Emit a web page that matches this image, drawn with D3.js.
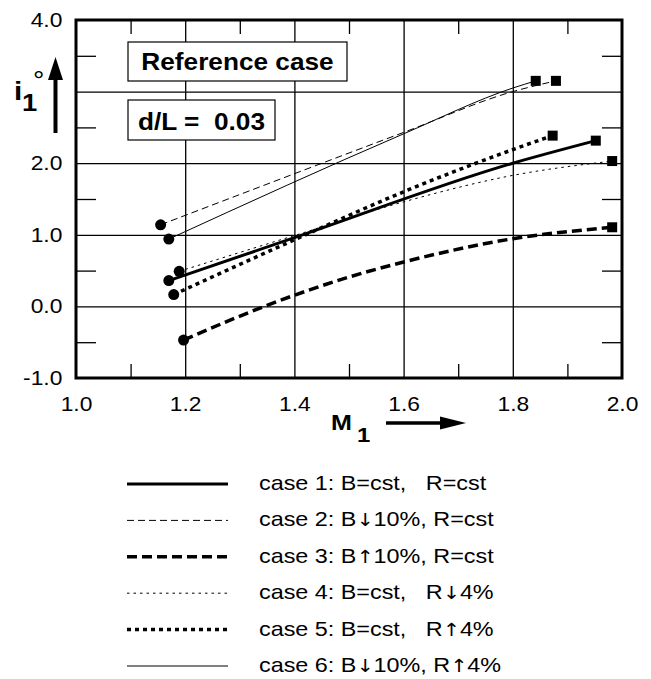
<!DOCTYPE html>
<html>
<head>
<meta charset="utf-8">
<script src="https://cdn.jsdelivr.net/npm/d3@7"></script>
<style>
  html, body { margin: 0; padding: 0; background: #fff; }
  svg { display: block; font-family: "Liberation Sans", Arial, Helvetica, sans-serif; }
</style>
</head>
<body>
<svg id="chart" width="651" height="679"></svg>
<script>
// values: [M1, i1]
const case1 = [[1.170, 0.36], [1.40, 0.96], [1.80, 2.00], [1.952, 2.315]];
const case2 = [[1.155, 1.14], [1.60, 2.43], [1.80, 3.00], [1.879, 3.15]];
const case3 = [[1.197, -0.47], [1.35, 0.015], [1.50, 0.41], [1.60, 0.62], [1.80, 0.945], [1.982, 1.105]];
const case4 = [[1.189, 0.49], [1.40, 0.99], [1.60, 1.46], [1.80, 1.83], [1.982, 2.03]];
const case5 = [[1.179, 0.165], [1.40, 0.93], [1.60, 1.60], [1.80, 2.19], [1.873, 2.385]];
const case6 = [[1.170, 0.94], [1.60, 2.41], [1.80, 3.05], [1.842, 3.15]];
const allCases = [case1, case2, case3, case4, case5, case6];

const legendLabels = [
  'case 1: B=cst,   R=cst',
  'case 2: B\u219310%, R=cst',
  'case 3: B\u219110%, R=cst',
  'case 4: B=cst,   R\u21934%',
  'case 5: B=cst,   R\u21914%',
  'case 6: B\u219310%, R\u21914%'
];

const xLabelTicks = [1.0, 1.2, 1.4, 1.6, 1.8, 2.0];
const xGrid = [1.2, 1.4, 1.6, 1.8];
const xMinor = [1.1, 1.3, 1.5, 1.7, 1.9];
const yLabelTicks = [4.0, 2.0, 1.0, 0.0, -1.0];
const yGrid = [0, 1, 2, 3];
const yMinor = [-0.5, 0.5, 1.5, 2.5, 3.5];

// line styles, one per case
const styles = [
  { width: 3, dash: null },
  { width: 1, dash: '7,4' },
  { width: 3.5, dash: '10,5' },
  { width: 1, dash: '2.5,4' },
  { width: 3.5, dash: '4,4' },
  { width: 1, dash: null }
];

const STRETCH = 1.14; // the original lettering is a bit wide

const svg = d3.select('#chart');
const plot = { left: 76, right: 622, top: 20, bottom: 378 };

const x = d3.scaleLinear().domain([1, 2]).range([plot.left, plot.right]);
const y = d3.scaleLinear().domain([-1, 4]).range([plot.bottom, plot.top]);

const fmt = d => d3.format('.1f')(d).replace('\u2212', '-');

const stretchText = sel => sel.selectAll('text')
  .attr('transform', `scale(${STRETCH},1)`);

// grid lines
svg.append('g')
  .attr('transform', `translate(0,${plot.bottom})`)
  .call(d3.axisBottom(x).tickValues(xGrid).tickSize(-(plot.bottom - plot.top)).tickFormat(''))
  .call(g => g.select('.domain').remove())
  .selectAll('line').attr('stroke', '#000').attr('stroke-width', 1.3);

svg.append('g')
  .attr('transform', `translate(${plot.left},0)`)
  .call(d3.axisLeft(y).tickValues(yGrid).tickSize(-(plot.right - plot.left)).tickFormat(''))
  .call(g => g.select('.domain').remove())
  .selectAll('line').attr('stroke', '#000').attr('stroke-width', 1.3);

// short inner ticks
const minor = [
  [d3.axisBottom(x).tickValues(xMinor).tickSize(-14), `translate(0,${plot.bottom})`],
  [d3.axisTop(x).tickValues(xMinor).tickSize(-14), `translate(0,${plot.top})`],
  [d3.axisLeft(y).tickValues(yMinor).tickSize(-20), `translate(${plot.left},0)`],
  [d3.axisRight(y).tickValues(yMinor).tickSize(-20), `translate(${plot.right},0)`]
];
minor.forEach(([ax, tr]) => {
  svg.append('g')
    .attr('transform', tr)
    .call(ax.tickFormat(''))
    .call(g => g.select('.domain').remove())
    .selectAll('line').attr('stroke', '#000').attr('stroke-width', 1.3);
});

// tick labels
svg.append('g')
  .attr('transform', `translate(0,${plot.bottom})`)
  .call(d3.axisBottom(x).tickValues(xLabelTicks).tickSize(0).tickPadding(19).tickFormat(fmt))
  .call(g => g.select('.domain').remove())
  .call(g => g.selectAll('text').attr('font-size', 20).attr('fill', '#000')
    .attr('font-family', '"Liberation Sans", Arial, sans-serif'))
  .call(stretchText);

svg.append('g')
  .attr('transform', `translate(${plot.left},0)`)
  .call(d3.axisLeft(y).tickValues(yLabelTicks).tickSize(0).tickPadding(12).tickFormat(fmt))
  .call(g => g.select('.domain').remove())
  .call(g => g.selectAll('text').attr('font-size', 20).attr('fill', '#000')
    .attr('font-family', '"Liberation Sans", Arial, sans-serif'))
  .call(stretchText);

// boxes in the upper left
function labelBox(x0, y0, w, h, str, baseline) {
  svg.append('rect')
    .attr('x', x0).attr('y', y0).attr('width', w).attr('height', h)
    .attr('fill', '#fff').attr('stroke', '#000').attr('stroke-width', 1.2);
  svg.append('text')
    .attr('transform', `translate(${x0 + w / 2},${baseline}) scale(${STRETCH},1)`)
    .attr('text-anchor', 'middle')
    .attr('font-size', 23)
    .attr('font-weight', 'bold')
    .style('white-space', 'pre')
    .text(str);
}
labelBox(128, 42, 219, 39, 'Reference case', 70);
labelBox(128, 100, 147, 40, 'd/L =  0.03', 130);

// curves
const line = d3.line()
  .x(d => x(d[0]))
  .y(d => y(d[1]))
  .curve(d3.curveMonotoneX);

allCases.forEach((pts, i) => {
  svg.append('path')
    .datum(pts)
    .attr('d', line)
    .attr('fill', 'none')
    .attr('stroke', '#000')
    .attr('stroke-width', styles[i].width)
    .attr('stroke-dasharray', styles[i].dash);
});

// end markers: circle at the start, square at the end
svg.append('g').selectAll('circle')
  .data(allCases.map(c => c[0]))
  .join('circle')
  .attr('cx', d => x(d[0]))
  .attr('cy', d => y(d[1]))
  .attr('r', 5.5)
  .attr('fill', '#000');

svg.append('g').selectAll('rect')
  .data(allCases.map(c => c[c.length - 1]))
  .join('rect')
  .attr('x', d => x(d[0]) - 5)
  .attr('y', d => y(d[1]) - 5)
  .attr('width', 10)
  .attr('height', 10)
  .attr('fill', '#000');

// frame
svg.append('rect')
  .attr('x', plot.left).attr('y', plot.top)
  .attr('width', plot.right - plot.left).attr('height', plot.bottom - plot.top)
  .attr('fill', 'none').attr('stroke', '#000').attr('stroke-width', 3);

// y axis title: i1 degree, with arrow
const yTitle = svg.append('g');
yTitle.append('text')
  .attr('transform', `translate(14,100) scale(${STRETCH},1)`)
  .attr('font-size', 26).attr('font-weight', 'bold').text('i');
yTitle.append('text')
  .attr('transform', `translate(22,111) scale(${STRETCH},1)`)
  .attr('font-size', 24).attr('font-weight', 'bold').text('1');
yTitle.append('text')
  .attr('transform', `translate(33,89) scale(${STRETCH},1)`)
  .attr('font-size', 25).text('\u00B0');
yTitle.append('line')
  .attr('x1', 55.5).attr('x2', 55.5).attr('y1', 133).attr('y2', 76)
  .attr('stroke', '#000').attr('stroke-width', 4);
yTitle.append('path')
  .attr('d', 'M55.5,57 L63,80 L48,80 Z')
  .attr('fill', '#000');

// x axis title: M1 with arrow
const xTitle = svg.append('g');
xTitle.append('text')
  .attr('transform', `translate(331,430) scale(${STRETCH},1)`)
  .attr('font-size', 22).attr('font-weight', 'bold').text('M');
xTitle.append('text')
  .attr('transform', `translate(357,442) scale(${STRETCH},1)`)
  .attr('font-size', 21).attr('font-weight', 'bold').text('1');
xTitle.append('line')
  .attr('x1', 386).attr('x2', 444).attr('y1', 423).attr('y2', 423)
  .attr('stroke', '#000').attr('stroke-width', 3.5);
xTitle.append('path')
  .attr('d', 'M466,423 L440,416.5 L440,429.5 Z')
  .attr('fill', '#000');

// legend
const ly = d3.scalePoint().domain(legendLabels).range([490, 672]);
const legend = svg.append('g');
legendLabels.forEach((lab, i) => {
  const b = ly(lab);
  legend.append('line')
    .attr('x1', 127).attr('x2', 228)
    .attr('y1', b - 6).attr('y2', b - 6)
    .attr('stroke', '#000')
    .attr('stroke-width', styles[i].width)
    .attr('stroke-dasharray', styles[i].dash);
  const t = legend.append('text')
    .attr('transform', `translate(259,${b}) scale(${STRETCH},1)`)
    .attr('font-size', 20.5)
    .style('white-space', 'pre');
  // arrows from DejaVu, it has full-size arrow glyphs
  lab.split(/([\u2191\u2193])/).filter(s => s).forEach(part => {
    const isArrow = /[\u2191\u2193]/.test(part);
    t.append('tspan')
      .style('font-family', isArrow ? '"DejaVu Sans"' : null)
      .attr('font-size', isArrow ? 18 : null)
      .text(part);
  });
});
</script>
</body>
</html>
